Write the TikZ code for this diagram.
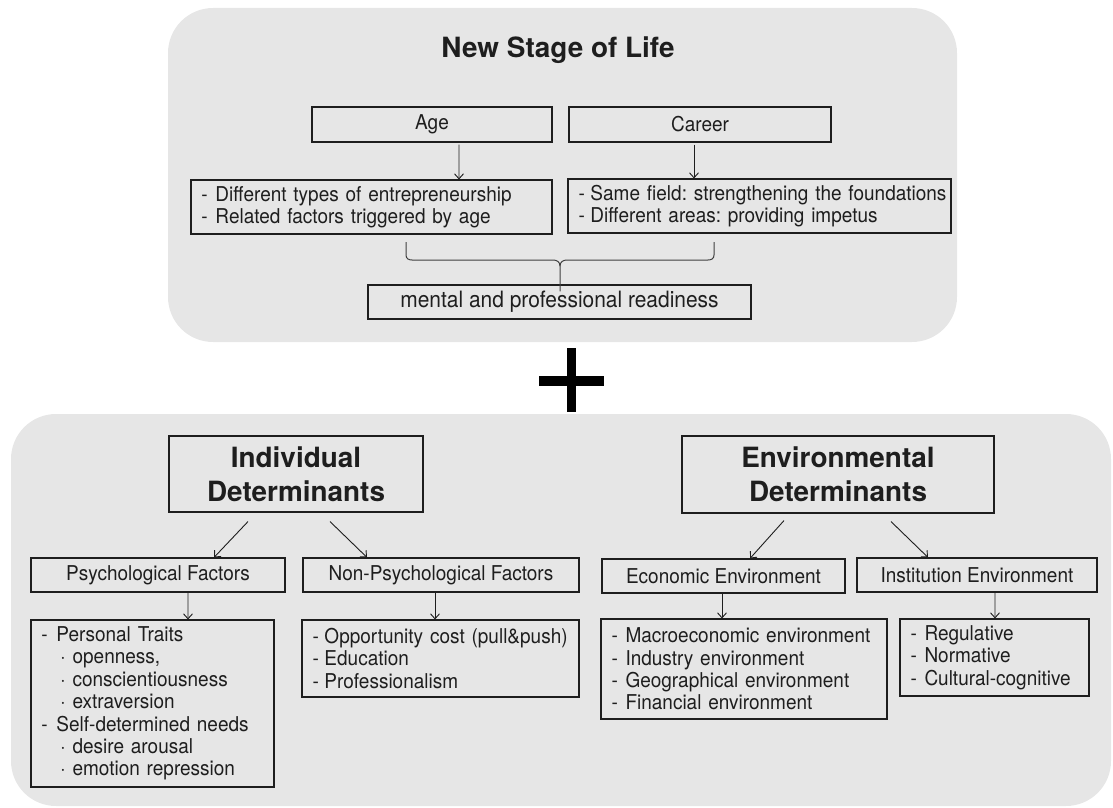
\documentclass[tikz,border=0pt]{standalone}
\usepackage{fontspec}
\setmainfont{TeX Gyre Heros}
\newfontfamily\boxfont[FakeStretch=0.93]{TeX Gyre Heros}
\usetikzlibrary{arrows.meta,calc}

\definecolor{panelgray}{HTML}{E6E6E6}
\definecolor{ink}{HTML}{1E1E1E}

\frenchspacing
% list entries: a dash column of fixed width, and indented dotted sub-entries
\newcommand{\dashitem}[2][14bp]{\mbox{\makebox[#1][l]{-}#2}}
\newcommand{\dotitem}[1]{\mbox{\hspace*{19bp}·\ #1}}

\begin{document}
\begin{tikzpicture}[x=1bp,y=-1bp,
  panel/.style={fill=panelgray, draw=none, rounded corners=45bp},
  box/.style={draw=ink, line width=1.1bp, inner sep=0pt, text=ink,
              font=\boxfont\fontsize{20.5}{22.5}\selectfont, align=center},
  listbox/.style={box, align=left, inner xsep=10.5bp},
  headbox/.style={box, font=\fontsize{28}{34}\selectfont\bfseries},
  titletext/.style={text=ink, inner sep=0pt, font=\fontsize{28}{34}\selectfont\bfseries},
  arr/.style={draw=ink, line width=0.9bp, -{Straight Barb[length=5bp,width=9bp]}},
  brace/.style={draw=ink!85, line width=1bp},
  plusbar/.style={fill=black, draw=none},
]
\useasboundingbox (0,0) rectangle (1113,808);

% background panels
\fill[panel] (168,8) rectangle (957,342);
\fill[panel] (11,414) rectangle (1111,806);

% ---------- upper panel ----------
\node[titletext] (title) at (558,50) {New Stage of Life};

\node[box, minimum width=240bp, minimum height=35bp] (age) at (432,124.5) {Age};
\node[box, minimum width=262bp, minimum height=35bp] (career) at (700,124.5) {Career};

\node[listbox, text width=340bp, minimum height=54bp] (agelist) at (371.5,207)
  {\dashitem{Different types of entrepreneurship}\\
   \dashitem{Related factors triggered by age}};
\node[listbox, text width=362bp, minimum height=54bp] (careerlist) at (759.5,206)
  {\dashitem[12bp]{Same field: strengthening the foundations}\\
   \dashitem[12bp]{Different areas: providing impetus}};

\node[box, minimum width=383bp, minimum height=34bp, font=\boxfont\fontsize{22.6}{24}\selectfont]
  (ready) at (559.5,302) {mental and professional readiness};

\draw[arr] ($(age.south)+(27,2)$) -- ($(agelist.north)+(87.5,0)$);
\draw[arr] ($(career.south)+(-6,2)$) -- ($(careerlist.north)+(-65.5,0)$);

% brace gathering both lists into the readiness box
\coordinate (bl) at (406,242);
\coordinate (br) at (714,242);
\coordinate (bs) at ($(ready.north)+(0.5,7)$);
\draw[brace] (bl) -- (406,255) .. controls (406,258.5) and (408.5,260) .. (412,260)
  -- (553,260) .. controls (557,260) and (560,262) .. (560,266) -- (bs);
\draw[brace] (br) -- (714,255) .. controls (714,258.5) and (711.5,260) .. (708,260)
  -- (567,260) .. controls (563,260) and (560,262) .. (560,266);

% plus sign
\fill[plusbar] (567,348) rectangle (576,412);
\fill[plusbar] (539,376) rectangle (604,386);

% ---------- lower panel ----------
\node[headbox, minimum width=254bp, minimum height=76bp] (ind) at (296,474)
  {Individual\\Determinants};
\node[headbox, minimum width=312bp, minimum height=77bp] (env) at (838,474.5)
  {Environmental\\Determinants};

\node[box, minimum width=254bp, minimum height=34bp] (psych) at (158,575) {Psychological Factors};
\node[box, minimum width=276bp, minimum height=34bp] (nonpsych) at (441,575) {Non-Psychological Factors};
\node[box, minimum width=243bp, minimum height=34bp] (econ) at (723.5,576) {Economic Environment};
\node[box, minimum width=240bp, minimum height=34bp] (inst) at (977,575) {Institution Environment};

\node[listbox, text width=222bp, minimum height=167bp] (psychlist) at (152.5,703.5)
  {\dashitem[15bp]{Personal Traits}\\
   \dotitem{openness,}\\
   \dotitem{conscientiousness}\\
   \dotitem{extraversion}\\
   \dashitem[15bp]{Self-determined needs}\\
   \dotitem{desire arousal}\\
   \dotitem{emotion repression}};
\node[listbox, text width=256bp, minimum height=77bp] (nplist) at (440.5,658.5)
  {\dashitem[12bp]{Opportunity cost (pull\&push)}\\
   \dashitem[12bp]{Education}\\
   \dashitem[12bp]{Professionalism}};
\node[listbox, text width=265bp, minimum height=100bp] (econlist) at (744,669)
  {\dashitem{Macroeconomic environment}\\
   \dashitem{Industry environment}\\
   \dashitem{Geographical environment}\\
   \dashitem{Financial environment}};
\node[listbox, text width=168bp, minimum height=77bp] (instlist) at (994.5,657.5)
  {\dashitem{Regulative}\\
   \dashitem{Normative}\\
   \dashitem{Cultural-cognitive}};

\draw[arr] ($(ind.south)+(-48,9)$) -- ($(psych.north)+(56,0)$);
\draw[arr] ($(ind.south)+(34,9)$) -- ($(nonpsych.north)+(-74,0)$);
\draw[arr] ($(env.south)+(-54,7)$) -- ($(econ.north)+(26.5,0)$);
\draw[arr] ($(env.south)+(53,8)$) -- ($(inst.north)+(-49,0)$);

\draw[arr] ($(psych.south)+(30,0)$) -- ($(psychlist.north)+(35.5,0)$);
\draw[arr] ($(nonpsych.south)+(-6,0)$) -- ($(nplist.north)+(-5.5,0)$);
\draw[arr] ($(econ.south)+(-1.5,0)$) -- ($(econlist.north)+(-22,0)$);
\draw[arr] ($(inst.south)+(18,0)$) -- ($(instlist.north)+(0.5,0)$);
\end{tikzpicture}
\end{document}
